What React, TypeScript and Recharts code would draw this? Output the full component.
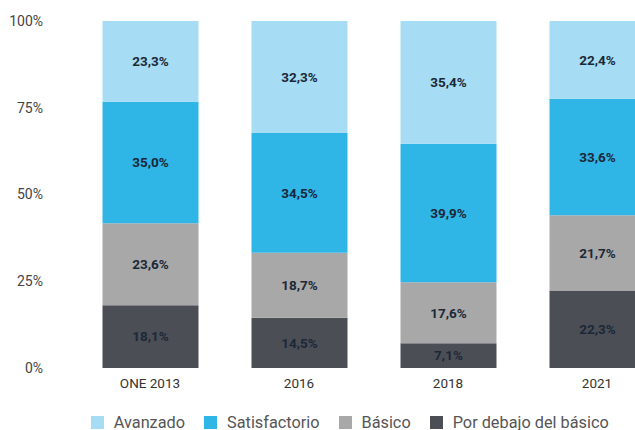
import React from 'react';
import { BarChart, Bar, XAxis, YAxis, LabelList, Legend } from 'recharts';

const categories = ['ONE 2013', '2016', '2018', '2021'];
const porDebajo = [18.1, 14.5, 7.1, 22.3];
const basico = [23.6, 18.7, 17.6, 21.7];
const satisfactorio = [35.0, 34.5, 39.9, 33.6];
const avanzado = [23.3, 32.3, 35.4, 22.4];
const yTicks = [0, 25, 50, 75, 100];

const series = [
  { key: 'porDebajo', name: 'Por debajo del básico', color: '#4c4e56' },
  { key: 'basico', name: 'Básico', color: '#a8a8a8' },
  { key: 'satisfactorio', name: 'Satisfactorio', color: '#30b5e7' },
  { key: 'avanzado', name: 'Avanzado', color: '#a6ddf4' },
];

const data = categories.map((name, i) => ({
  name,
  porDebajo: porDebajo[i],
  basico: basico[i],
  satisfactorio: satisfactorio[i],
  avanzado: avanzado[i],
}));

const fmt = (v: any) => `${Number(v).toFixed(1).replace('.', ',')}%`;

function LegendContent() {
  const items = [...series].reverse();
  return (
    <div style={{ display: 'flex', justifyContent: 'center', alignItems: 'center', gap: 19, height: 24, marginTop: 4, paddingLeft: 28 }}>
      {items.map((s) => (
        <div key={s.key} style={{ display: 'flex', alignItems: 'center', gap: 10 }}>
          <span style={{ width: 13, height: 13, background: s.color, display: 'inline-block' }} />
          <span style={{ fontSize: 16.3, color: '#555' }}>{s.name}</span>
        </div>
      ))}
    </div>
  );
}

export default function App() {
  return (
    <div style={{ position: 'absolute', left: 0, top: 0, width: 635, height: 430, overflow: 'hidden', background: '#fff', fontFamily: 'Roboto, sans-serif' }}>
      <BarChart width={700} height={430} data={data} margin={{ top: 21, right: 28.5, left: 0, bottom: 0 }}>
        <YAxis
          width={75.5}
          domain={[0, 100]}
          ticks={yTicks}
          tickFormatter={(v) => `${v}%`}
          axisLine={false}
          tickLine={false}
          tickMargin={26.5}
          tick={{ fontSize: 14, fill: '#444' }}
        />
        <XAxis
          dataKey="name"
          axisLine={false}
          tickLine={false}
          tickMargin={4}
          height={38}
          tick={{ fontSize: 13.5, fill: '#333' }}
        />
        <Legend verticalAlign="bottom" content={<LegendContent />} wrapperStyle={{ height: 24 }} />
        {series.map((s) => (
          <Bar key={s.key} dataKey={s.key} name={s.name} stackId="a" fill={s.color} barSize={96} isAnimationActive={false}>
            <LabelList dataKey={s.key} position="center" formatter={fmt} style={{ fontSize: 13.5, fontWeight: 700, fill: '#1b2838' }} />
          </Bar>
        ))}
      </BarChart>
    </div>
  );
}
